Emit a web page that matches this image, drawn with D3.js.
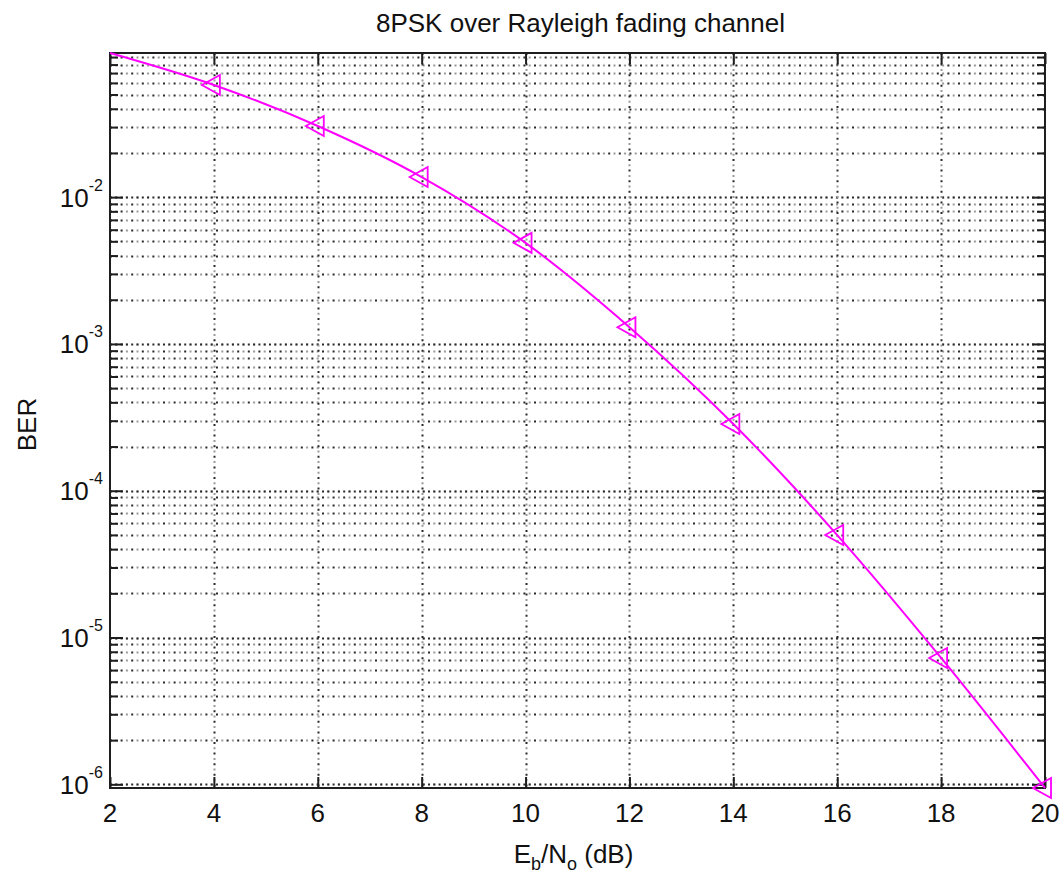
<!DOCTYPE html>
<html>
<head>
<meta charset="utf-8">
<script src="https://cdn.jsdelivr.net/npm/d3@7"></script>
<style>
  html, body { margin: 0; padding: 0; background: #fff; }
  svg { display: block; font-family: "Liberation Sans", Arial, sans-serif; }
</style>
</head>
<body>
<svg id="chart" width="1064" height="878"></svg>
<script>
// Eb/No points (dB) of the BER curve
const ebNo = [2, 4, 6, 8, 10, 12, 14, 16, 18, 20];
// Bit error rate at each Eb/No point
const ber = [0.0959, 0.0581, 0.0305, 0.0137, 0.00488, 0.00130, 2.85e-4, 4.99e-5, 7.26e-6, 9.44e-7];
// Eb/No values that carry a marker
const markerEbNo = [4, 6, 8, 10, 12, 14, 16, 18, 20];
// Axis ticks
const xTicks = [2, 4, 6, 8, 10, 12, 14, 16, 18, 20];
const yDecadeExps = [-6, -5, -4, -3, -2];

const titleText = "8PSK over Rayleigh fading channel";
const yLabelText = "BER";

const svg = d3.select("#chart");
const plot = { left: 110, right: 1045, top: 53, bottom: 788 };

const x = d3.scaleLinear().domain(d3.extent(xTicks)).range([plot.left, plot.right]);
const y = d3.scaleLog().domain(d3.extent(ber)).range([plot.bottom, plot.top]);

const decades = yDecadeExps.map(e => Math.pow(10, e));
const minorY = y.ticks().filter(v => !decades.some(d => Math.abs(v / d - 1) < 1e-6));
const allY = y.ticks();

const ink = "#1e1e1e";

// ---- dotted grid ----
const grid = svg.append("g").attr("class", "grid");
function hDotted(yv, dense) {
  const yy = Math.round(y(yv)) + 0.5;
  if (yy <= plot.top + 1 || yy >= plot.bottom - 1) return;
  grid.append("line")
    .attr("x1", plot.left).attr("x2", plot.right).attr("y1", yy).attr("y2", yy)
    .attr("stroke", "#9a9a9a").attr("stroke-width", 2)
    .attr("stroke-dasharray", "2 8.6").attr("stroke-dashoffset", -5.3);
  grid.append("line")
    .attr("x1", plot.left).attr("x2", plot.right).attr("y1", yy).attr("y2", yy)
    .attr("stroke", "#2a2a2a").attr("stroke-width", 2)
    .attr("stroke-dasharray", dense ? "2 3.3" : "2 8.6");
}
function vDotted(xv) {
  const xx = Math.round(x(xv)) + 0.5;
  grid.append("line")
    .attr("y1", plot.top).attr("y2", plot.bottom).attr("x1", xx).attr("x2", xx)
    .attr("stroke", "#9a9a9a").attr("stroke-width", 2)
    .attr("stroke-dasharray", "2 8.6").attr("stroke-dashoffset", -5.3);
  grid.append("line")
    .attr("y1", plot.top).attr("y2", plot.bottom).attr("x1", xx).attr("x2", xx)
    .attr("stroke", "#2a2a2a").attr("stroke-width", 2)
    .attr("stroke-dasharray", "2 8.6");
}
allY.forEach(v => hDotted(v, decades.some(d => Math.abs(v / d - 1) < 1e-6)));
xTicks.slice(1, -1).forEach(vDotted);

// ---- axes with inward ticks on all four sides ----
function styleAxis(g) {
  g.select(".domain").remove();
  g.selectAll(".tick line").attr("stroke", ink).attr("stroke-width", 2);
  g.selectAll(".tick text").remove();
}
svg.append("g").attr("transform", `translate(0,${plot.bottom})`)
  .call(d3.axisBottom(x).tickValues(xTicks).tickSize(-11)).call(styleAxis);
svg.append("g").attr("transform", `translate(0,${plot.top})`)
  .call(d3.axisTop(x).tickValues(xTicks).tickSize(-11)).call(styleAxis);
svg.append("g").attr("transform", `translate(${plot.left},0)`)
  .call(d3.axisLeft(y).tickValues(minorY).tickSize(-8)).call(styleAxis);
svg.append("g").attr("transform", `translate(${plot.left},0)`)
  .call(d3.axisLeft(y).tickValues(decades).tickSize(-13)).call(styleAxis);
svg.append("g").attr("transform", `translate(${plot.right},0)`)
  .call(d3.axisRight(y).tickValues(minorY).tickSize(-8)).call(styleAxis);
svg.append("g").attr("transform", `translate(${plot.right},0)`)
  .call(d3.axisRight(y).tickValues(decades).tickSize(-13)).call(styleAxis);

// plot box
svg.append("rect")
  .attr("x", plot.left).attr("y", plot.top)
  .attr("width", plot.right - plot.left).attr("height", plot.bottom - plot.top)
  .attr("fill", "none").attr("stroke", ink).attr("stroke-width", 2);

// ---- tick labels ----
svg.append("g").selectAll("text").data(xTicks).join("text")
  .attr("x", d => x(d)).attr("y", 822)
  .attr("text-anchor", "middle").attr("font-size", 26).attr("fill", "#111")
  .text(d => d);

const yLab = svg.append("g").selectAll("text").data(yDecadeExps).join("text")
  .attr("x", 103).attr("y", d => y(Math.pow(10, d)) + 9.5)
  .attr("text-anchor", "end").attr("fill", "#111");
yLab.append("tspan").attr("font-size", 26).text("10");
yLab.append("tspan").attr("font-size", 16).attr("dy", -16).text(d => String(d));

// ---- titles ----
svg.append("text")
  .attr("x", (plot.left + plot.right) / 2 + 3).attr("y", 32)
  .attr("text-anchor", "middle").attr("font-size", 26).attr("fill", "#111")
  .text(titleText);

const xl = svg.append("text")
  .attr("x", (plot.left + plot.right) / 2 - 4).attr("y", 863)
  .attr("text-anchor", "middle").attr("font-size", 26).attr("fill", "#111");
xl.append("tspan").text("E");
xl.append("tspan").attr("font-size", 18).attr("dy", 7).text("b");
xl.append("tspan").attr("dy", -7).text("/N");
xl.append("tspan").attr("font-size", 18).attr("dy", 7).text("o");
xl.append("tspan").attr("dy", -7).text(" (dB)");

svg.append("text")
  .attr("transform", `translate(36,${(plot.top + plot.bottom) / 2 + 4}) rotate(-90)`)
  .attr("text-anchor", "middle").attr("font-size", 26).attr("fill", "#111")
  .text(yLabelText);

// ---- BER curve ----
const pts = ebNo.map((e, i) => ({ e, b: ber[i] }));
svg.append("path").datum(pts)
  .attr("fill", "none").attr("stroke", "#ff00ff").attr("stroke-width", 2)
  .attr("d", d3.line().x(d => x(d.e)).y(d => y(d.b)).curve(d3.curveMonotoneX));

// left-pointing triangle markers
const markerPts = markerEbNo.map(e => ({ e, b: ber[ebNo.indexOf(e)] }));
svg.append("g").selectAll("path").data(markerPts).join("path")
  .attr("transform", d => `translate(${x(d.e)},${y(d.b)})`)
  .attr("d", "M-12,0L6,-10L6,10Z")
  .attr("fill", "none").attr("stroke", "#ff00ff").attr("stroke-width", 1.8);
</script>
</body>
</html>
